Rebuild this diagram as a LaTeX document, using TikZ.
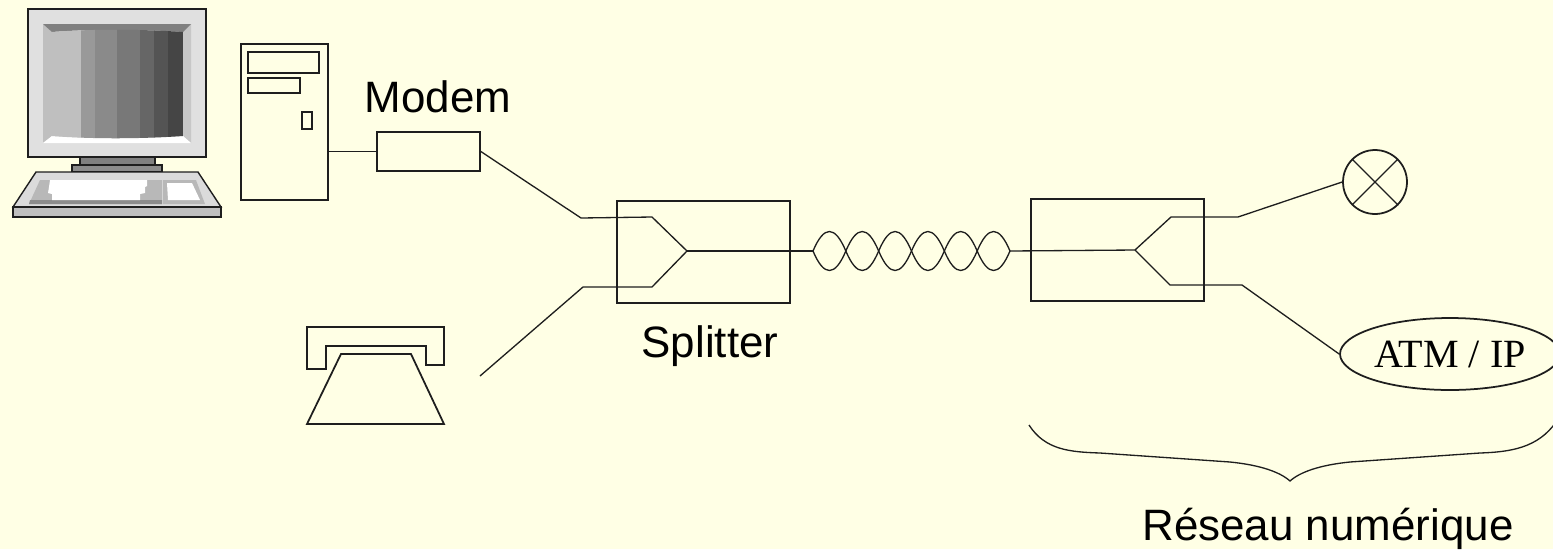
\documentclass[tikz,border=0pt]{standalone}
\usepackage{fontspec}
\setmainfont{Liberation Sans}
\newfontfamily\timesfont{Liberation Serif}
\usepackage{tikz}
\usetikzlibrary{positioning,shapes.geometric,calc}
\usepackage{xcolor}
\definecolor{paper}{RGB}{255,255,229}
\definecolor{linec}{RGB}{30,30,30}

\begin{document}
\begin{tikzpicture}[x=0.02cm, y=-0.02cm,
	box/.style={draw=linec, line width=1pt, inner sep=0pt},
	wire/.style={draw=linec, line width=0.75pt},
	lbl/.style={font=\fontsize{25}{30}\selectfont, anchor=base, inner sep=0pt},
	shade/.style={draw=linec, line width=0.8pt}]
\fill[paper] (0,0) rectangle (1553,549);
\useasboundingbox (0,0) rectangle (1553,549);

\filldraw[shade, fill=black!12] (28,9) rectangle (206,157);
\fill[black!25] (43,24) -- (52,32) -- (52,136) -- (43,143) -- cycle;
\fill[black!22] (191,24) -- (183,32) -- (183,136) -- (191,143) -- cycle;
\fill[black!50] (43,24) -- (191,24) -- (183,32) .. controls (140,29) and (90,29) .. (52,32) -- cycle;
\fill[white] (43,143) -- (191,143) -- (183,136) .. controls (140,139) and (90,139) .. (52,136) -- cycle;
\begin{scope}
	\clip (52,32) .. controls (90,29) and (140,29) .. (183,32) -- (183,136) .. controls (140,139) and (90,139) .. (52,136) -- cycle;
	\foreach \xa/\xb/\g in {52/81/25, 81/95/40, 95/117/46, 117/140/53, 140/154/60, 154/168/67, 168/183/73}
		\fill[black!\g] (\xa,25) rectangle (\xb,140);
\end{scope}
\filldraw[shade, fill=black!50] (80,157) rectangle (155,165);
\filldraw[shade, fill=black!45] (72,165) rectangle (162,172);
\filldraw[shade, fill=black!14] (36,172) -- (198,172) -- (221,207) -- (13,207) -- cycle;
\filldraw[shade, fill=black!25] (13,207) rectangle (221,217);
\fill[black!28] (40,180) -- (162,180) -- (162,204) -- (29,204) -- cycle;
\fill[black!45] (30,200) -- (162,200) -- (162,204) -- (29,204) -- cycle;
\fill[white] (50,180) -- (147,180) -- (147,186) -- (145,187) -- (145,193) -- (140,194) -- (140,200) -- (52,200) -- (52,194) -- (48,193) -- (49,187) -- cycle;
\fill[black!28] (163,180) -- (196,180) -- (205,204) -- (163,204) -- cycle;
\fill[white] (167,183) -- (192,183) -- (200,200) -- (168,200) -- cycle;

\node[box, minimum width=1.74cm, minimum height=3.12cm] (tower) at (284.5,122) {};
\draw[box] (248,52) rectangle (319,73);
\draw[box] (248,78) rectangle (300,93);
\draw[box] (302,112) rectangle (312,129);

\node[box, minimum width=2.06cm, minimum height=0.78cm] (modem) at (428.5,151.5) {};
\node[lbl] (modemlbl) at (438,112) {Modem};

\draw[box] (307,327) -- (444,327) -- (444,365) -- (426,365) -- (426,346) -- (326,346) -- (326,369) -- (307,369) -- cycle;
\draw[box] (341,354) -- (411,354) -- (444,424) -- (307,424) -- cycle;
\coordinate (phone) at (480,376);

\node[box, minimum width=3.46cm, minimum height=2.04cm] (splitl) at (703.5,252) {};
\node[lbl] (splitlbl) at (710,357) {Splitter};
\coordinate (jl) at (687,251);
\coordinate (tw1) at (813,251);
\coordinate (tw2) at (1010,251);

\node[box, minimum width=3.46cm, minimum height=2.04cm] (splitr) at (1117.5,250) {};
\coordinate (jr) at (1135,250);

\node[box, circle, minimum size=1.28cm] (lamp) at (1375,182) {};
\draw[wire] (lamp.north west) -- (lamp.south east) (lamp.north east) -- (lamp.south west);
\node[box, ellipse, minimum width=4.4cm, minimum height=1.44cm, font=\timesfont\fontsize{22.8}{26}\selectfont] (atm) at (1450,354) {ATM / IP};

\draw[wire] (modem.west -| tower.east) -- (modem.west);
\draw[wire] (modem.east) -- (581,218) -- (652,217) -- (jl);
\draw[wire] (phone) -- (583,287) -- (652,287) -- (jl);
\draw[wire] (jl) -- (tw1);
\foreach \i in {0,...,5}
	\draw[wire] ($(tw1)!\i/6!(tw2)$) .. controls +(11,-26) and +(-11,-26) .. ($(tw1)!\i/6+1/6!(tw2)$)
		.. controls +(-11,26) and +(11,26) .. ($(tw1)!\i/6!(tw2)$);
\draw[wire] (tw2) -- (jr);
\draw[wire] (jr) -- (1171,217) -- (1238,217) -- (lamp.west);
\draw[wire] (jr) -- (1170,285) -- (1242,285) -- (atm.west);

\draw[wire] (1029,425) .. controls (1045,450) and (1070,452) .. (1100,453)
	-- (1230,462) .. controls (1260,465) and (1280,472) .. (1290,481)
	.. controls (1300,472) and (1320,465) .. (1350,462)
	-- (1480,453) .. controls (1510,452) and (1538,448) .. (1556,422);
\node[lbl] (netlbl) at (1328,540) {Réseau numérique};
\end{tikzpicture}
\end{document}
